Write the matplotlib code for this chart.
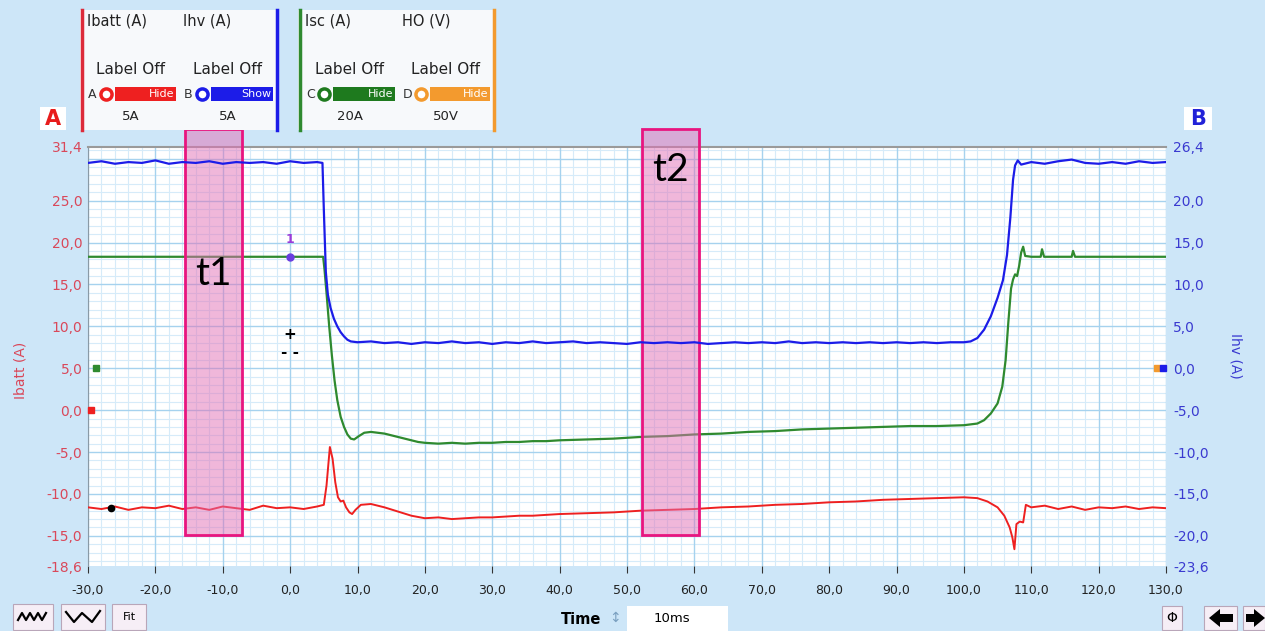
import matplotlib
matplotlib.use("Agg")
import matplotlib.pyplot as plt
from matplotlib.patches import Rectangle, Polygon
from matplotlib.lines import Line2D
from matplotlib.ticker import FixedLocator, MultipleLocator

W, H = 1265, 631
BG = "#cde6f8"
RED = "#ee2020"
BLUE = "#1c1ce8"
GREEN = "#2f8a2f"
ORANGE = "#f39a2e"

# ---- data (time in ms) ----
# Ihv, right axis (A)
ihv_t = [-30, -28, -26, -24, -22, -20, -18, -16, -14, -12, -10, -8, -6, -4, -2, 0, 2, 4, 4.8,
         5.0, 5.3, 5.6, 6.0, 6.5, 7.0, 7.5, 8.0, 8.5, 9.0, 10,
         12, 14, 16, 18, 20, 22, 24, 26, 28, 30, 32, 34, 36, 38, 40, 42, 44, 46, 48, 50,
         52, 54, 56, 58, 60, 62, 64, 66, 68, 70, 72, 74, 76, 78, 80, 82, 84, 86, 88, 90,
         92, 94, 96, 98, 100, 101,
         102, 103, 104, 105, 105.8, 106.4, 106.9, 107.3, 107.6, 108, 108.5,
         110, 112, 114, 116, 118, 120, 122, 124, 126, 128, 130]
ihv_v = [24.5, 24.7, 24.4, 24.6, 24.5, 24.8, 24.4, 24.6, 24.5, 24.7, 24.4, 24.6, 24.5, 24.6, 24.4, 24.7, 24.5, 24.6, 24.5,
         19.0, 11.5, 8.8, 7.2, 5.9, 5.0, 4.3, 3.8, 3.4, 3.2, 3.1,
         3.2, 3.0, 3.1, 2.9, 3.1, 3.0, 3.2, 3.0, 3.1, 2.9, 3.1, 3.0, 3.2, 3.0, 3.1, 3.2, 3.0, 3.1, 3.0, 2.9,
         3.1, 3.0, 3.1, 3.0, 3.1, 2.9, 3.0, 3.1, 3.0, 3.1, 3.0, 3.2, 3.0, 3.1, 3.0, 3.1, 3.0, 3.1, 3.0, 3.1,
         3.0, 3.1, 3.0, 3.1, 3.1, 3.2,
         3.6, 4.6, 6.2, 8.4, 10.5, 13.5, 18.0, 22.5, 24.2, 24.8, 24.3,
         24.6, 24.4, 24.7, 24.9, 24.5, 24.4, 24.6, 24.4, 24.7, 24.5, 24.6]

# Isc, drawn on the left scale
isc_t = [-30, -20, -10, 0, 4.9,
         5.1, 5.4, 5.8, 6.2, 6.6, 7.0, 7.5, 8.0, 8.5, 9.0, 9.5, 10.2, 11, 12, 13, 14, 15, 16, 17, 18, 19, 20,
         22, 24, 26, 28, 30, 32, 34, 36, 38, 40, 44, 48, 52, 56, 60, 64, 68, 72, 76, 80, 84, 88, 92, 96, 100,
         102, 103, 104, 105, 105.7, 106.2, 106.6, 107.0, 107.3, 107.6, 107.9, 108.2, 108.5, 108.8, 109.1, 110,
         111.4, 111.6, 111.9, 116, 116.2, 116.5, 130]
isc_v = [18.3, 18.3, 18.3, 18.3, 18.3,
         16.8, 14.0, 10.0, 6.5, 3.5, 1.2, -0.8, -2.0, -2.9, -3.4, -3.5, -3.1, -2.7, -2.6, -2.7, -2.8, -3.0, -3.2, -3.4, -3.6, -3.8, -3.9,
         -4.0, -3.9, -4.0, -3.9, -3.9, -3.8, -3.8, -3.7, -3.7, -3.6, -3.5, -3.4, -3.2, -3.1, -2.9, -2.8, -2.6, -2.5, -2.3, -2.2, -2.1, -2.0, -1.9, -1.9, -1.8,
         -1.6, -1.2, -0.4, 0.8, 2.8, 6.0, 10.5, 14.5, 15.6, 16.2, 16.0, 17.2, 18.8, 19.5, 18.4, 18.3,
         18.3, 19.2, 18.3, 18.3, 19.0, 18.3, 18.3]

# Ibatt, left axis (A)
ibatt_t = [-30, -28, -26, -24, -22, -20, -18, -16, -14, -12, -10, -8, -6, -4, -2, 0, 2, 4,
           5.0, 5.4, 5.9, 6.3, 6.7, 7.1, 7.5, 7.9, 8.3, 8.8, 9.2, 9.7, 10.5, 12, 14, 16, 18, 20,
           22, 24, 26, 28, 30, 32, 34, 36, 38, 40, 44, 48, 52, 56, 60, 64, 68, 72, 76, 80, 84, 88, 92, 96, 100,
           102, 103.5, 105, 106, 106.8, 107.2, 107.5, 107.8, 108.3, 108.8, 109.2,
           110, 112, 114, 116, 118, 120, 122, 124, 126, 128, 130]
ibatt_v = [-11.6, -11.8, -11.5, -11.9, -11.6, -11.7, -11.4, -11.8, -11.6, -11.9, -11.5, -11.7, -11.9, -11.4, -11.7, -11.6, -11.8, -11.5,
           -11.3, -9.0, -4.4, -5.8, -8.6, -10.4, -10.9, -10.8, -11.6, -12.2, -12.4, -11.9, -11.3, -11.2, -11.6, -12.1, -12.6, -12.9,
           -12.8, -13.0, -12.9, -12.8, -12.8, -12.7, -12.6, -12.6, -12.5, -12.4, -12.3, -12.2, -12.0, -11.9, -11.8, -11.6, -11.5, -11.3, -11.2, -11.0, -10.9, -10.7, -10.6, -10.5, -10.4,
           -10.5, -10.9, -11.6, -12.6, -14.0, -15.2, -16.6, -13.6, -13.3, -13.4, -11.3,
           -11.6, -11.4, -11.8, -11.5, -11.9, -11.6, -11.7, -11.5, -11.8, -11.6, -11.7]

left_ticks = [-18.6, -15, -10, -5, 0, 5, 10, 15, 20, 25, 31.4]
right_ticks = [-23.6, -20, -15, -10, -5, 0, 5, 10, 15, 20, 26.4]
time_ticks = list(range(-30, 131, 10))

t1_window = (-15.6, -7.1)
t2_window = (52.2, 60.7)


def fx(px):
    return px / W


def fy(py):
    return 1 - py / H


def fmt(v):
    return f"{v:.1f}".replace(".", ",")


fig = plt.figure(figsize=(W / 100, H / 100), dpi=100)
fig.patch.set_facecolor(BG)


def box(x0, y0, x1, y1, fc, ec="none", lw=0, z=1):
    fig.patches.append(Rectangle((fx(x0), fy(y1)), (x1 - x0) / W, (y1 - y0) / H,
                                 transform=fig.transFigure, fc=fc, ec=ec, lw=lw, zorder=z))


def vline(x, y0, y1, color, lw):
    fig.lines.append(Line2D([fx(x), fx(x)], [fy(y0), fy(y1)], color=color, lw=lw,
                            transform=fig.transFigure))


# ---- main axes ----
ax = fig.add_axes([fx(88), fy(566), (1166 - 88) / W, (566 - 147) / H])
ax.set_facecolor("white")
ax.set_xlim(-30, 130)
ax.set_ylim(-18.6, 31.4)
ax.xaxis.set_major_locator(FixedLocator(time_ticks))
ax.xaxis.set_minor_locator(MultipleLocator(2))
ax.yaxis.set_major_locator(FixedLocator(left_ticks))
ax.yaxis.set_minor_locator(MultipleLocator(1))
ax.set_xticklabels([fmt(v) for v in time_ticks], fontsize=9, color="#222222")
ax.set_yticklabels([fmt(v) for v in left_ticks], fontsize=10, color="#d9485a")
ax.tick_params(axis="x", which="major", length=5, color="#333333", pad=8)
ax.tick_params(axis="x", which="minor", length=0)
ax.tick_params(axis="y", which="both", length=0, pad=4)

for v in range(-30, 131, 10):
    ax.axvline(v, color="#a6d2ee", lw=1.0, zorder=0.5)
for v in range(-28, 130, 2):
    if v % 10:
        ax.axvline(v, color="#d6ebf9", lw=0.8, zorder=0.4)
for v in range(-18, 32):
    ax.axhline(v, color="#a6d2ee" if v % 5 == 0 else "#d6ebf9",
               lw=1.0 if v % 5 == 0 else 0.8, zorder=0.4 if v % 5 else 0.5)

for s in ["right", "bottom"]:
    ax.spines[s].set_visible(False)
ax.spines["left"].set_color("#8a9aa6")
ax.spines["top"].set_color("#9a9a9a")
ax.spines["top"].set_linewidth(1.5)

ax.plot(isc_t, isc_v, color=GREEN, lw=1.6, zorder=3)
ax.plot(ibatt_t, ibatt_v, color=RED, lw=1.4, zorder=3)

ax2 = ax.twinx()
ax2.set_ylim(-23.6, 26.4)
ax2.yaxis.set_major_locator(FixedLocator(right_ticks))
ax2.set_yticklabels([fmt(v) for v in right_ticks], fontsize=10, color="#3a3ad0")
ax2.tick_params(axis="y", length=0, pad=5)
for s in ["left", "right", "bottom", "top"]:
    ax2.spines[s].set_visible(False)
ax2.plot(ihv_t, ihv_v, color=BLUE, lw=1.6, zorder=3)

# cursor / marker symbols
ax.plot([0], [18.3], "o", color="#6a3ee0", ms=5, zorder=4)
ax.text(0, 20.4, "1", color="#9a3ad8", fontsize=9, ha="center", va="center", fontweight="bold")
ax.text(0, 9.0, "+", color="black", fontsize=11, ha="center", va="center", fontweight="bold")
ax.text(0, 6.9, "- -", color="black", fontsize=11, ha="center", va="center", fontweight="bold")
ax.plot([-26.6], [-11.7], "o", color="black", ms=4.5, zorder=4)
ax.plot([-28.8], [5.0], "s", color=GREEN, ms=5, zorder=4, clip_on=False)
ax.plot([-29.6], [0.0], "s", color=RED, ms=5, zorder=4, clip_on=False)
ax2.plot([128.6], [0.0], "s", color=ORANGE, ms=5, zorder=4, clip_on=False)
ax2.plot([129.5], [0.0], "s", color=BLUE, ms=5, zorder=4, clip_on=False)

# highlighted windows
for (a, b), lab, ly in [(t1_window, "t1", 16.3), (t2_window, "t2", 28.7)]:
    ax.add_patch(Rectangle((a, -14.95), b - a, 33.55 + 14.95, fc="#e270b6", alpha=0.5,
                           ec="none", clip_on=False, zorder=5))
    ax.add_patch(Rectangle((a, -14.95), b - a, 33.55 + 14.95, fc="none",
                           ec="#e8157f", lw=2, clip_on=False, zorder=6))
    ax.text((a + b) / 2, ly, lab, fontsize=28, family="Lato", ha="center", va="center", zorder=7)

# axis titles
fig.text(fx(20), fy(370), "Ibatt (A)", rotation=90, color="#d9485a", fontsize=10, ha="center", va="center")
fig.text(fx(1236), fy(356), "Ihv (A)", rotation=270, color="#3a3ad0", fontsize=10, ha="center", va="center")

# A / B channel badges
box(40, 107, 66, 130, "white")
fig.text(fx(53), fy(119), "A", color="#e81c1c", fontsize=15, fontweight="bold", ha="center", va="center")
box(1184, 107, 1212, 130, "white")
fig.text(fx(1198), fy(119), "B", color="#2222d8", fontsize=15, fontweight="bold", ha="center", va="center")

# ---- channel panel ----
box(80, 10, 278, 130, "#f7f9fb")
box(298, 10, 495, 130, "#f7f9fb")
vline(81.5, 10, 130, "#dd2b3a", 2.5)
vline(276.5, 10, 130, "#1c1ce8", 2.5)
vline(299.5, 10, 130, "#2f8a2f", 2.5)
vline(493.5, 10, 130, ORANGE, 2.5)

channels = [("Ibatt (A)", "A", RED, "Hide", "5A", 84, 178),
            ("Ihv (A)", "B", BLUE, "Show", "5A", 180, 275),
            ("Isc (A)", "C", "#1e7a1e", "Hide", "20A", 302, 397),
            ("HO (V)", "D", ORANGE, "Hide", "50V", 399, 492)]
for name, letter, col, state, scale, x0, x1 in channels:
    cx = (x0 + x1) / 2
    fig.text(fx(x0 + 3), fy(21), name, fontsize=10.5, color="#222222", ha="left", va="center")
    fig.text(fx(cx), fy(70), "Label Off", fontsize=11, color="#222222", ha="center", va="center")
    fig.text(fx(x0 + 4), fy(94), letter, fontsize=9, color="#333333", ha="left", va="center")
    fig.lines.append(Line2D([fx(x0 + 22)], [fy(94)], marker="o", ms=8, mfc="white", mec=col, mew=2.5,
                            transform=fig.transFigure))
    box(x0 + 31, 87, x1 - 2, 101, col)
    fig.text(fx(x1 - 4), fy(94), state, fontsize=8, color="white", ha="right", va="center")
    fig.text(fx(cx), fy(117), scale, fontsize=9.5, color="#222222", ha="center", va="center")

# ---- bottom toolbar ----
for x0, x1 in [(13, 53), (61, 105), (112, 146)]:
    box(x0, 604, x1, 630, "#f6eef6", ec="#b9a6b9", lw=0.8)
fig.lines.append(Line2D([fx(v) for v in [18, 22, 26, 30, 34, 38, 42, 46]],
                        [fy(v) for v in [620, 613, 620, 613, 620, 613, 620, 613]],
                        color="black", lw=1.6, transform=fig.transFigure))
fig.lines.append(Line2D([fx(v) for v in [66, 74, 82, 92, 100]],
                        [fy(v) for v in [612, 622, 613, 622, 611]],
                        color="black", lw=1.6, transform=fig.transFigure))
fig.text(fx(129), fy(617), "Fit", fontsize=8, ha="center", va="center")
fig.text(fx(581), fy(619), "Time", fontsize=10.5, fontweight="bold", ha="center", va="center")
fig.text(fx(615), fy(618), "\u2195", fontsize=10, color="#7aa0c0", ha="center", va="center")
box(627, 606, 728, 631, "white")
fig.text(fx(672), fy(619), "10ms", fontsize=9.5, ha="center", va="center")
box(1162, 606, 1182, 630, "#f6eef6", ec="#b9a6b9", lw=0.8)
fig.text(fx(1172), fy(618), "\u03a6", fontsize=10, ha="center", va="center")
box(1204, 606, 1237, 630, "#f6eef6", ec="#b9a6b9", lw=0.8)
box(1243, 606, 1265, 630, "#f6eef6", ec="#b9a6b9", lw=0.8)
fig.patches.append(Polygon([(fx(1209), fy(618)), (fx(1220), fy(609)), (fx(1220), fy(614)),
                            (fx(1233), fy(614)), (fx(1233), fy(622)), (fx(1220), fy(622)),
                            (fx(1220), fy(627))], closed=True, fc="black", transform=fig.transFigure))
fig.patches.append(Polygon([(fx(1265), fy(618)), (fx(1254), fy(609)), (fx(1254), fy(614)),
                            (fx(1246), fy(614)), (fx(1246), fy(622)), (fx(1254), fy(622)),
                            (fx(1254), fy(627))], closed=True, fc="black", transform=fig.transFigure))

fig.savefig("out.png", dpi=100, facecolor=fig.get_facecolor())
